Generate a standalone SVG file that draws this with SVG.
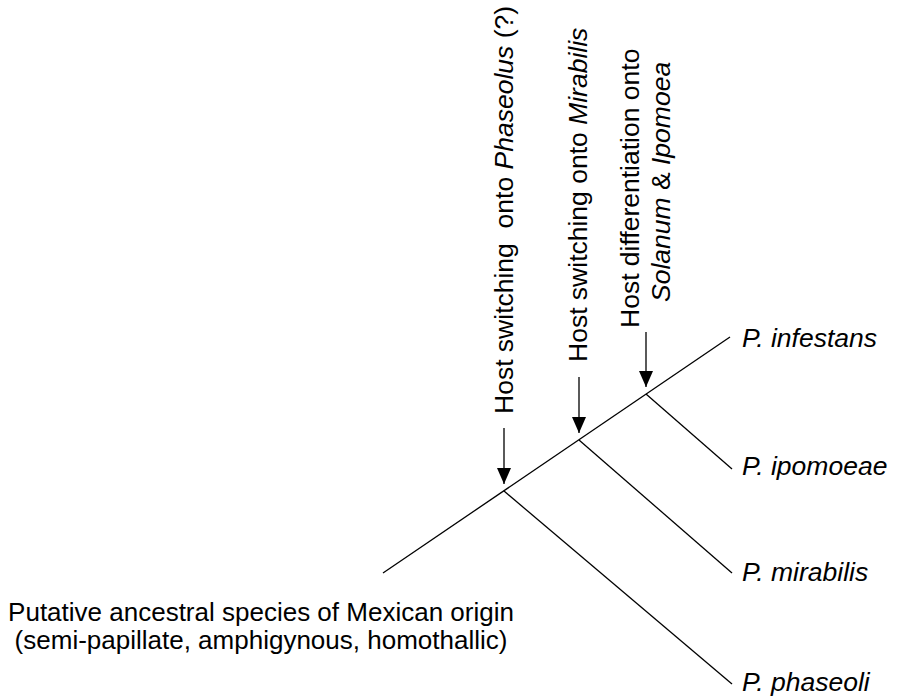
<svg xmlns="http://www.w3.org/2000/svg" width="898" height="696" viewBox="0 0 898 696">
  <style>
    text { font-family: "Liberation Sans", Arial, Helvetica, sans-serif; font-size: 26.5px; fill: #000; }
    .anc { font-size: 26px; }
    .it { font-style: italic; }
    .edge { stroke: #000; stroke-width: 1.3; fill: none; }
    .arr { stroke: #000; stroke-width: 1.3; fill: none; }
  </style>
  <defs>
    <marker id="ah" viewBox="0 0 16 14" refX="16" refY="7" markerWidth="16" markerHeight="14" orient="auto" markerUnits="userSpaceOnUse">
      <path d="M0,0 L16,7 L0,14 z" fill="#000"/>
    </marker>
  </defs>
  <rect width="898" height="696" fill="#fff"/>

  <g id="connectors">
    <line class="edge" x1="383" y1="573" x2="730" y2="337"/>
    <line class="edge" x1="646" y1="394" x2="732" y2="469"/>
    <line class="edge" x1="579" y1="440" x2="732" y2="573"/>
    <line class="edge" x1="504" y1="491" x2="732" y2="684"/>
    <line class="arr" x1="504" y1="428" x2="504" y2="484" marker-end="url(#ah)"/>
    <line class="arr" x1="579" y1="377" x2="579" y2="433" marker-end="url(#ah)"/>
    <line class="arr" x1="646" y1="332" x2="646" y2="387" marker-end="url(#ah)"/>
  </g>

  <g id="ancestor">
    <text class="anc" x="261" y="621" text-anchor="middle">Putative ancestral species of Mexican origin</text>
    <text class="anc" x="261" y="649" text-anchor="middle">(semi-papillate, amphigynous, homothallic)</text>
  </g>

  <g id="p-infestans"><text class="it" x="742" y="347">P. infestans</text></g>
  <g id="p-ipomoeae"><text class="it" x="742" y="475">P. ipomoeae</text></g>
  <g id="p-mirabilis"><text class="it" x="742" y="581">P. mirabilis</text></g>
  <g id="p-phaseoli"><text class="it" x="742" y="691">P. phaseoli</text></g>

  <g id="event-phaseolus">
    <text transform="translate(513,414) rotate(-90)">Host switching&#160; onto <tspan class="it">Phaseolus</tspan> (?)</text>
  </g>
  <g id="event-mirabilis">
    <text transform="translate(587,362) rotate(-90)">Host switching onto <tspan class="it">Mirabilis</tspan></text>
  </g>
  <g id="event-solanum-ipomoea">
    <text transform="translate(639,328) rotate(-90)">Host differentiation onto</text>
    <text transform="translate(670,302) rotate(-90)"><tspan class="it">Solanum</tspan> &amp; <tspan class="it">Ipomoea</tspan></text>
  </g>
</svg>
